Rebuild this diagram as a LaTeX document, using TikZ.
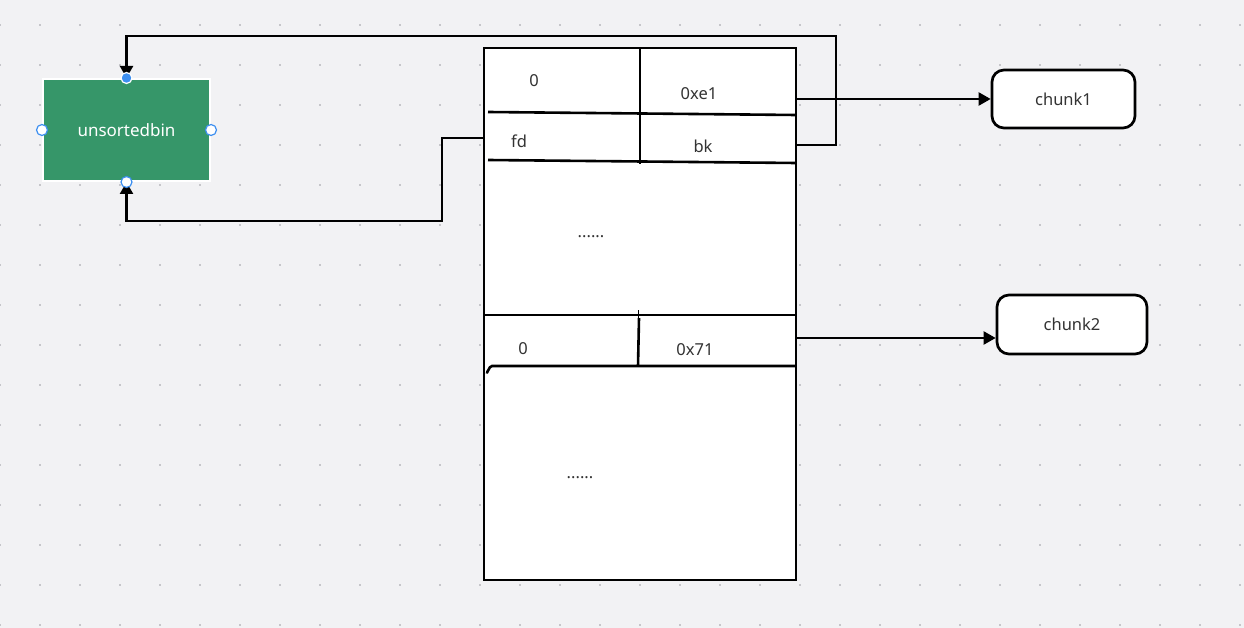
\documentclass[tikz,border=0pt]{standalone}
\usepackage{fontspec}
\setmainfont{Noto Sans}
\usetikzlibrary{arrows.meta}
\definecolor{bg}{HTML}{F2F2F4}
\definecolor{dotc}{HTML}{C6C6CA}
\definecolor{bingreen}{HTML}{369669}
\definecolor{handle}{HTML}{3D8FF0}
\definecolor{txt}{HTML}{333333}
\tikzset{
  lbl/.style={text=txt, font=\fontsize{16.5}{19}\selectfont, inner sep=0pt},
  heapline/.style={line width=2.6pt},
  chunkbox/.style={draw, line width=2.7pt, rounded corners=12pt, fill=white,
    text=txt, font=\fontsize{16.5}{19}\selectfont},
  link/.style={line width=2.3pt, -{Triangle[width=13pt,length=12pt]}},
  grip/.style={circle, draw=handle, fill=white, line width=1.2pt, inner sep=0pt, minimum size=11pt}
}
\begin{document}
\begin{tikzpicture}[x=1pt,y=-1pt]
    \useasboundingbox (0,0) rectangle (1244,628);
    \fill[bg] (0,0) rectangle (1244,628);
    \foreach \x in {0,40,...,1240}
      \foreach \y in {25,65,...,625}
        \fill[dotc] (\x-1,\y-1) rectangle ++(2.2,2.2);
    % bin head
    \node[fill=bingreen, draw=white, line width=2pt, minimum width=167pt, minimum height=102pt,
      text=white, font=\fontsize{17}{20}\selectfont] (bin) at (126.5,130) {unsortedbin};
    % fake chunk
    \node[draw, heapline, fill=white, minimum width=312pt, minimum height=532pt, inner sep=0pt] (heap) at (640,314) {};
    \draw[heapline] (488,112)--(796,115);
    \draw[heapline] (488,160)--(796,163);
    \draw[heapline] (640,48)--(640,164);
    \draw[heapline] (484,315)--(796,315);
    \draw[line width=1pt] (638,310)--(638,318);
    \draw[heapline] (639,318)--(638,366);
    \draw[heapline] (486,372) to[out=-60,in=180] (492,366)--(796,366);
    \node[lbl] (prev) at (534,81) {0};
    \node[lbl] (size) at (699,94) {0xe1};
    \node[lbl] (fd) at (519,141) {fd};
    \node[lbl] (bk) at (703,146) {bk};
    \node[lbl] (dots1) at (591,237) {......};
    \node[lbl] (prev2) at (523,349) {0};
    \node[lbl] (size2) at (695,350) {0x71};
    \node[lbl] (dots2) at (580,478) {......};
    \coordinate (fdout) at (484,138);
    \coordinate (bkout) at (796,145);
    \coordinate (szout) at (796,99);
    \coordinate (sz2out) at (796,338);
    % next chunks
    \node[chunkbox, minimum width=143pt, minimum height=58pt] (c1) at (1063.5,99) {chunk1};
    \node[chunkbox, minimum width=150pt, minimum height=59pt] (c2) at (1072,324.5) {chunk2};
    % links
    \draw[link] (bkout)--(836,145)--(836,36)-|(bin.north);
    \draw[link] (fdout)--(442,138)--(442,221)-|(bin.south);
    \draw[link] (szout)--(c1.west);
    \draw[link] (sz2out)--(sz2out-|c2.west);
    % selection handles
    \node[grip, fill=handle, draw=white] (gn) at (bin.north) {};
    \node[grip] (gs) at (bin.south) {};
    \node[grip] (gw) at (bin.west) {};
    \node[grip] (ge) at (bin.east) {};
\end{tikzpicture}
\end{document}
